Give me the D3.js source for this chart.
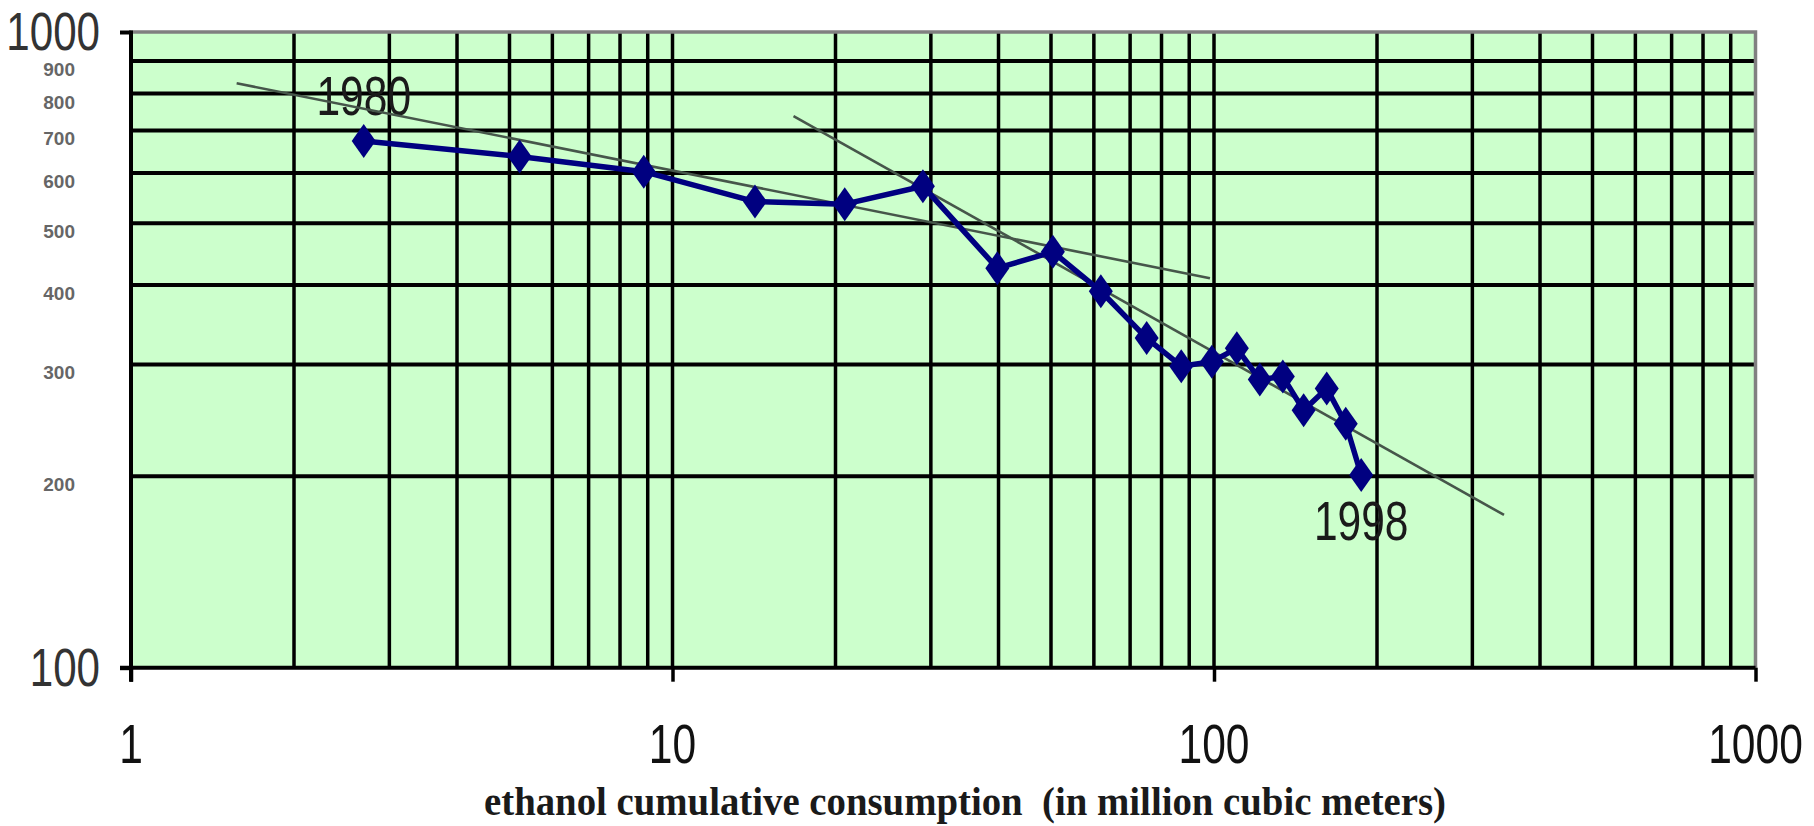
<!DOCTYPE html>
<html>
<head>
<meta charset="utf-8">
<script src="https://cdn.jsdelivr.net/npm/d3@7"></script>
<style>
  html, body { margin: 0; padding: 0; background: #ffffff; }
  svg { display: block; }
</style>
</head>
<body>
<svg id="chart" width="1814" height="826"></svg>
<script>
// Ethanol price vs. cumulative consumption (learning curve), 1980-1998
const years = [1980, 1981, 1982, 1983, 1984, 1985, 1986, 1987, 1988, 1989,
               1990, 1991, 1992, 1993, 1994, 1995, 1996, 1997, 1998];
const cumulativeConsumption = [2.69, 5.22, 8.85, 14.2, 20.8, 29.0, 39.8, 50.4, 61.8, 75.1,
                               87.0, 99.1, 110.2, 121.5, 134.0, 146.4, 161.5, 175.1, 187.0];
const price = [674, 637, 603, 541, 536, 572, 425, 451, 391, 330,
               298, 303, 318, 284, 287, 254, 275, 242, 201];

// Fitted trend lines (endpoints)
const trendEarlyX = [1.567, 98.3];
const trendEarlyY = [830.6, 409.9];
const trendLateX = [16.73, 343.2];
const trendLateY = [737.6, 173.9];

// Axis ticks
const xMajorTicks = [1, 10, 100, 1000];
const xGridValues = [2, 3, 4, 5, 6, 7, 8, 9, 10, 20, 30, 40, 50, 60, 70, 80, 90, 100,
                     200, 300, 400, 500, 600, 700, 800, 900];
const yMajorTicks = [100, 1000];
const yMinorTicks = [200, 300, 400, 500, 600, 700, 800, 900];
const xTitle = "ethanol cumulative consumption  (in million cubic meters)";

const svg = d3.select("#chart");

const plotLeft = 131, plotRight = 1755.5, plotTop = 32, plotBottom = 667.7;
const x = d3.scaleLog().domain([1, 1000]).range([plotLeft, plotRight]);
const y = d3.scaleLog().domain([100, 1000]).range([plotBottom, plotTop]);

// plot background
svg.append("rect")
  .attr("x", plotLeft).attr("y", plotTop)
  .attr("width", plotRight - plotLeft).attr("height", plotBottom - plotTop)
  .attr("fill", "#ccffcc");

// vertical grid lines
svg.append("g").selectAll("line").data(xGridValues).join("line")
  .attr("x1", d => x(d)).attr("x2", d => x(d))
  .attr("y1", plotTop).attr("y2", plotBottom)
  .attr("stroke", "#000").attr("stroke-width", 3.5);

// horizontal grid lines
svg.append("g").selectAll("line").data(yMinorTicks).join("line")
  .attr("x1", plotLeft).attr("x2", plotRight)
  .attr("y1", d => y(d)).attr("y2", d => y(d))
  .attr("stroke", "#000").attr("stroke-width", 4);

// grey frame on top and right
svg.append("path")
  .attr("d", `M${plotLeft},${plotTop}H${plotRight}V${plotBottom}`)
  .attr("fill", "none").attr("stroke", "#808080").attr("stroke-width", 3.5);

// x axis (bottom) with major ticks pointing down
const xAxis = d3.axisBottom(x).tickValues(xMajorTicks).tickSize(14).tickFormat("");
const gx = svg.append("g").attr("transform", `translate(0,${plotBottom})`).call(xAxis);
gx.select(".domain").attr("d", `M${plotLeft - 11},0H${plotRight}`).attr("stroke", "#000").attr("stroke-width", 4);
gx.selectAll(".tick line").attr("stroke", "#000").attr("stroke-width", 3.5);

// y axis (left) with major ticks pointing left
const yAxis = d3.axisLeft(y).tickValues(yMajorTicks).tickSize(11).tickFormat("");
const gy = svg.append("g").attr("transform", `translate(${plotLeft},0)`).call(yAxis);
gy.select(".domain").attr("d", `M0,${plotTop - 1.5}V${plotBottom + 14}`).attr("stroke", "#000").attr("stroke-width", 4);
gy.selectAll(".tick line").attr("stroke", "#000").attr("stroke-width", 4);

// condensed sans label helper
function narrowText(g, tx, ty, text, size, sx, anchor, fill) {
  return g.append("text")
    .attr("transform", `translate(${tx},${ty}) scale(${sx},1)`)
    .attr("text-anchor", anchor)
    .attr("font-family", "Liberation Sans, Arial, sans-serif")
    .attr("font-size", size)
    .attr("fill", fill)
    .text(text);
}

const labels = svg.append("g");
// x tick labels
xMajorTicks.forEach(v => narrowText(labels, x(v), 763, String(v), 56, 0.76, "middle", "#111"));
// large y tick labels
yMajorTicks.forEach(v => narrowText(labels, 100, y(v) + 18, String(v), 54, 0.78, "end", "#333"));
// small y tick labels
yMinorTicks.forEach(v => labels.append("text")
  .attr("x", 75).attr("y", y(v) + 15)
  .attr("text-anchor", "end")
  .attr("font-family", "Liberation Sans, Arial, sans-serif")
  .attr("font-size", 19)
  .attr("font-weight", "bold")
  .attr("fill", "#666")
  .text(v));

// x axis title
labels.append("text")
  .attr("x", 965).attr("y", 815)
  .attr("text-anchor", "middle")
  .attr("font-family", "Liberation Serif, Times New Roman, serif")
  .attr("font-size", 40)
  .attr("font-weight", "bold")
  .attr("fill", "#1a1a1a")
  .attr("textLength", 962)
  .attr("lengthAdjust", "spacingAndGlyphs")
  .style("white-space", "pre")
  .text(xTitle);

// trend lines
const trendLine = d3.line().x(d => x(d[0])).y(d => y(d[1]));
[[trendEarlyX, trendEarlyY], [trendLateX, trendLateY]].forEach(([tx, ty]) => {
  svg.append("path")
    .datum(d3.zip(tx, ty))
    .attr("d", trendLine)
    .attr("fill", "none")
    .attr("stroke", "#46564a")
    .attr("stroke-width", 2.6);
});

// data series
const points = d3.zip(cumulativeConsumption, price);
svg.append("path")
  .datum(points)
  .attr("d", d3.line().x(d => x(d[0])).y(d => y(d[1])))
  .attr("fill", "none")
  .attr("stroke", "#000080")
  .attr("stroke-width", 5.5)
  .attr("stroke-linejoin", "round");

const hw = 12, hh = 17;
svg.append("g").selectAll("path").data(points).join("path")
  .attr("d", d => {
    const cx = x(d[0]), cy = y(d[1]);
    return `M${cx},${cy - hh}L${cx + hw},${cy}L${cx},${cy + hh}L${cx - hw},${cy}Z`;
  })
  .attr("fill", "#000080");

// first and last year annotations
narrowText(labels, x(cumulativeConsumption[0]), y(price[0]) - 26, String(years[0]), 56, 0.76, "middle", "#1a1a1a");
const last = years.length - 1;
narrowText(labels, x(cumulativeConsumption[last]), y(price[last]) + 65, String(years[last]), 56, 0.76, "middle", "#1a1a1a");
</script>
</body>
</html>
